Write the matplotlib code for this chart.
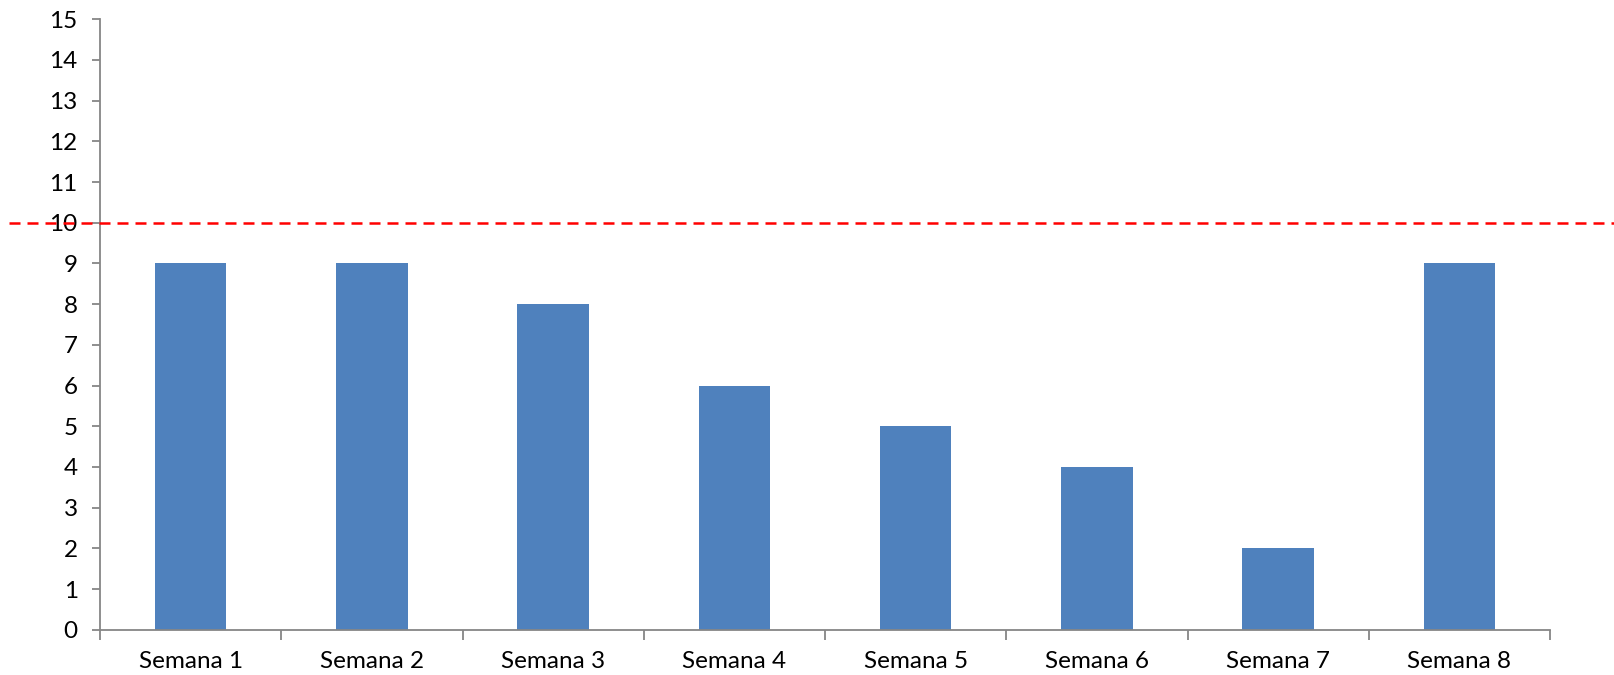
import matplotlib
matplotlib.use("Agg")
import matplotlib.pyplot as plt
import matplotlib.transforms as mtransforms
from matplotlib.lines import Line2D

categories = ["Semana 1", "Semana 2", "Semana 3", "Semana 4",
              "Semana 5", "Semana 6", "Semana 7", "Semana 8"]
values = [9, 9, 8, 6, 5, 4, 2, 9]
threshold = 10
y_ticks = list(range(0, 16))

plt.rcParams['font.family'] = ['Lato', 'DejaVu Sans']

fig = plt.figure(figsize=(16.14, 6.75), dpi=100)
ax = fig.add_axes([100/1614, 1 - 629.7/675, (1550 - 100)/1614, (629.7 - 19.3)/675])

x = list(range(len(categories)))
ax.bar(x, values, width=0.395, color="#4F81BD", zorder=2)

ax.set_xlim(-0.5, len(categories) - 0.5)
ax.set_ylim(0, 15)
ax.set_yticks(y_ticks)
ax.set_yticklabels([str(t) for t in y_ticks])
ax.set_xticks(x)
ax.set_xticklabels(categories)
ax.set_xticks([i - 0.5 for i in range(len(categories) + 1)], minor=True)

spine_col = "#868686"
for s in ["top", "right"]:
    ax.spines[s].set_visible(False)
for s in ["left", "bottom"]:
    ax.spines[s].set_color(spine_col)
    ax.spines[s].set_linewidth(1.3)

ax.tick_params(axis="y", direction="out", length=6, width=1.3, color=spine_col,
               labelsize=17.5, pad=10, labelcolor="black")
ax.tick_params(axis="x", which="major", length=0, labelsize=17.5, pad=15, labelcolor="black")
ax.tick_params(axis="x", which="minor", direction="out", length=7, width=1.3, color=spine_col)

trans = mtransforms.blended_transform_factory(fig.transFigure, ax.transData)
line = Line2D([9/1614, 1.0], [threshold, threshold], transform=trans, color="#FF0000",
              linewidth=1.8, linestyle=(0, (4.4, 2.8)), zorder=5, clip_on=False)
fig.add_artist(line)

fig.savefig("out.png", dpi=100)
